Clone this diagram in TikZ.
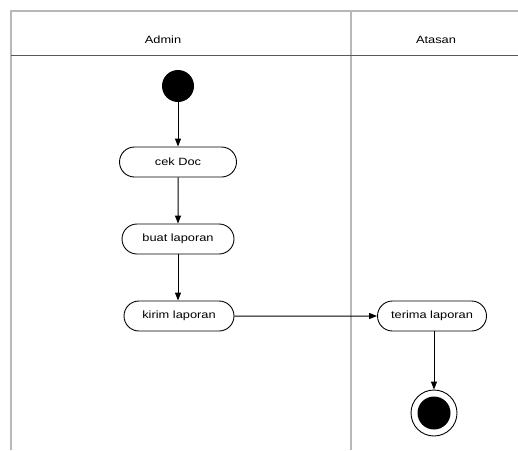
\documentclass[tikz,border=0pt]{standalone}
\usepackage{fontspec}
\usepackage{graphicx}
\setmainfont{Liberation Sans}
\usetikzlibrary{shapes.misc,arrows.meta}
\newcommand{\wtxt}[1]{\scalebox{1.22}[1]{#1}}
\tikzset{
  lane/.style={draw=black!28,line width=1.6pt},
  sep/.style={draw=black!65,line width=0.8pt},
  act/.style={rounded rectangle,draw=black,line width=0.9pt,minimum height=30pt,minimum width=116pt,inner sep=2pt,font=\fontsize{10.5}{12}\selectfont},
  flow/.style={draw=black,line width=1pt,-{Triangle[length=8pt,width=6pt]}},
  lbl/.style={font=\fontsize{10.5}{12}\selectfont}
}
\begin{document}
\begin{tikzpicture}[x=1pt,y=-1pt]
\useasboundingbox (0,0) rectangle (518,450);
\fill[white] (0,0) rectangle (518,450);
% swimlanes
\draw[lane] (11,450) -- (11,11) -- (518,11);
\draw[lane] (351,11) -- (351,450);
\draw[sep] (11,55) -- (518,55);
\node[lbl] (hadmin) at (163,40) {\wtxt{Admin}};
\node[lbl] (hatasan) at (436,40) {\wtxt{Atasan}};
% nodes
\node[circle,fill=black,minimum size=32pt,inner sep=0pt] (start) at (178,86) {};
\node[act,minimum width=121pt] (cek) at (178,162) {\wtxt{cek Doc}};
\node[act] (buat) at (178,239) {\wtxt{buat laporan}};
\node[act,minimum width=114pt] (kirim) at (179,316) {\wtxt{kirim laporan}};
\node[act,minimum width=113pt] (terima) at (432,316) {\wtxt{terima laporan}};
\node[circle,draw=black,line width=0.9pt,minimum size=46pt,inner sep=0pt] (end) at (434,413) {};
\node[circle,fill=black,minimum size=33pt,inner sep=0pt] (endin) at (end.center) {};
% flows
\draw[flow] (start) -- (cek);
\draw[flow] (cek) -- (buat);
\draw[flow] (buat.south) -- (buat.south |- kirim.north);
\draw[flow] (kirim) -- (terima);
\draw[flow] (terima.south -| end.north) -- (end.north);
\end{tikzpicture}
\end{document}
